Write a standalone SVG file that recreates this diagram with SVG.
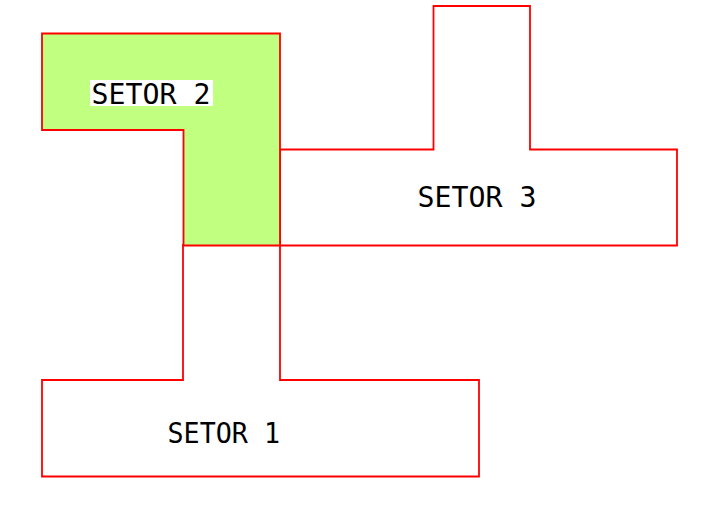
<svg xmlns="http://www.w3.org/2000/svg" width="719" height="509" viewBox="0 0 719 509">
<style>
.s{fill:none;stroke:#ff0000;stroke-width:1.8;stroke-linejoin:miter}
.t{font-family:"DejaVu Sans Mono","Liberation Mono",monospace;font-size:27.5px;fill:#000}
</style>
<rect width="719" height="509" fill="#fff"/>
<g id="setor1">
<path class="s" d="M42,380 H183 V245 H280 V380 H479 V476.5 H42 Z"/>
<text class="t" x="167.5" y="443" textLength="112.5" lengthAdjust="spacingAndGlyphs">SETOR 1</text>
</g>
<g id="setor3">
<path class="s" d="M280,149.5 H433.5 V6 H530 V149.5 H677 V245.5 H280 Z"/>
<text class="t" x="417.5" y="207" textLength="119" lengthAdjust="spacingAndGlyphs">SETOR 3</text>
</g>
<g id="setor2">
<path class="s" d="M42,33.5 H280 V245.5 H183.5 V130 H42 Z" style="fill:#c0ff80"/>
<rect x="90" y="80" width="123" height="26" fill="#fff"/>
<text class="t" x="91.5" y="103.5" textLength="119" lengthAdjust="spacingAndGlyphs">SETOR 2</text>
</g>
</svg>
